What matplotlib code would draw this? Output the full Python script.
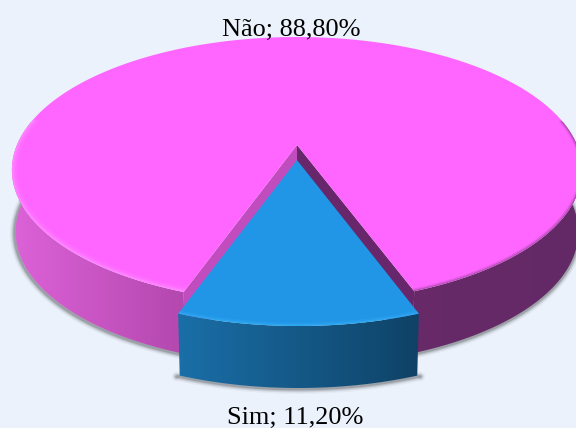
import numpy as np
import matplotlib
matplotlib.use("Agg")
import matplotlib.pyplot as plt
from matplotlib.patches import Polygon
from matplotlib.colors import LinearSegmentedColormap

labels = ["Não; 88,80%", "Sim; 11,20%"]
values = [88.8, 11.2]

# perspective of the pie disc, in pixels of the 576x428 picture
cx, cy = 297, 145
bx, by = 280, 128.3
persp = -0.188
depth = 62
shrink = 0.987
explode = 0.115


def project(phi, r=1.0, shift=0.0):
    # phi = 0 points at the viewer, growing to the right
    u = r * np.sin(phi)
    v = r * np.cos(phi) + shift
    w = 1 + persp * v
    return cx + bx * u / w, cy + by * v / w


def drop(x, y):
    return cx + (x - cx) * shrink, y + depth


def gradient(poly, xs, colors):
    cmap = LinearSegmentedColormap.from_list("g", colors)
    im = ax.imshow(np.linspace(0, 1, 256)[None, :], cmap=cmap, aspect="auto",
                   extent=[xs[0], xs[1], 428, 0], zorder=poly.get_zorder())
    ax.add_patch(poly)
    poly.set_visible(False)
    im.set_clip_path(poly)


def soft_shadow(x, y, z):
    for lw, a in zip([7, 5, 3.5, 2], [0.04, 0.07, 0.1, 0.16]):
        ax.plot(x, y, color="black", lw=lw, alpha=a, zorder=z, solid_capstyle="round")


fig = plt.figure(figsize=(5.76, 4.28), dpi=100, facecolor="#ebf2fc")
ax = fig.add_axes([0, 0, 1, 1])
ax.axis("off")

half = np.radians(values[1] / sum(values) * 360 / 2)
# the left corner of the big slice sits a little further in
end = 2 * np.pi - half * 0.965

# big slice, one half per side of the picture
phi_r = np.linspace(half, np.pi * 0.56, 200)
phi_l = np.linspace(end, np.pi * 1.44, 200)
phi = np.linspace(half, end, 400)
x, y = project(phi)
xr, yr = project(phi_r)
xl, yl = project(phi_l)
xrb, yrb = drop(xr, yr)
xlb, ylb = drop(xl, yl)

soft_shadow(xrb, yrb + 1, 1)
soft_shadow(xlb - 1, ylb + 1, 1)
gradient(Polygon(np.r_[np.c_[xl, yl], np.c_[xlb, ylb][::-1]], zorder=2),
         [10, 186], ["#dd62d8", "#b348ae"])
gradient(Polygon(np.r_[np.c_[xr, yr], np.c_[xrb, yrb][::-1]], zorder=2),
         [412, 590], ["#682968", "#622a66"])

# inner faces of the cut
ax.add_patch(Polygon([(cx, cy), (x[0], y[0]), drop(x[0], y[0]), (cx, cy + depth)],
                     fc="#68276a", ec="none", zorder=3))
ax.add_patch(Polygon([(cx, cy), (x[-1], y[-1]), drop(x[-1], y[-1]), (cx, cy + depth)],
                     fc="#c04cbd", ec="none", zorder=3))

# top face: light rim on the left, dark rim on the right
top = Polygon(np.r_[[(cx, cy)], np.c_[x, y]], fc="#ff66ff", ec="none", zorder=4)
ax.add_patch(top)
for lw, a in zip([8, 5, 2.5], [0.08, 0.14, 0.25]):
    line, = ax.plot(xl, yl, color="#ffb0ff", lw=lw, alpha=a, zorder=5)
    line.set_clip_path(top)
for lw, a in zip([4, 2], [0.15, 0.3]):
    line, = ax.plot(xr, yr, color="#662a68", lw=lw, alpha=a, zorder=5)
    line.set_clip_path(top)

# small slice, pulled to the front
phi2 = np.linspace(-half, half, 80)
x2, y2 = project(phi2, shift=explode)
x2 = x2 + 1.5
apex = project(0.0, r=0.0, shift=explode)
xb2, yb2 = drop(x2, y2)
soft_shadow(np.r_[xb2[0] - 3, xb2, xb2[-1] + 3], np.r_[yb2[0], yb2, yb2[-1]] + 1, 6)
gradient(Polygon(np.r_[np.c_[x2, y2], np.c_[xb2, yb2][::-1]], zorder=7),
         [x2[0], x2[-1]], ["#1a6fa8", "#0f4266"])
top2 = Polygon(np.r_[[apex], np.c_[x2, y2]], fc="#2196e6", ec="none", zorder=8)
ax.add_patch(top2)
for lw, a in zip([5, 2.5], [0.2, 0.4]):
    line, = ax.plot(x2, y2, color="#3ab4fa", lw=lw, alpha=a, zorder=9)
    line.set_clip_path(top2)

ax.text(291.5, 36, labels[0], family="Liberation Serif", fontsize=18.9,
        ha="center", va="baseline", color="black", zorder=10)
ax.text(295, 423.5, labels[1], family="Liberation Serif", fontsize=18.9,
        ha="center", va="baseline", color="black", zorder=10)

# imshow moves the limits, so set them last
ax.set_xlim(0, 576)
ax.set_ylim(428, 0)

fig.savefig("out.png", dpi=100, facecolor=fig.get_facecolor())
